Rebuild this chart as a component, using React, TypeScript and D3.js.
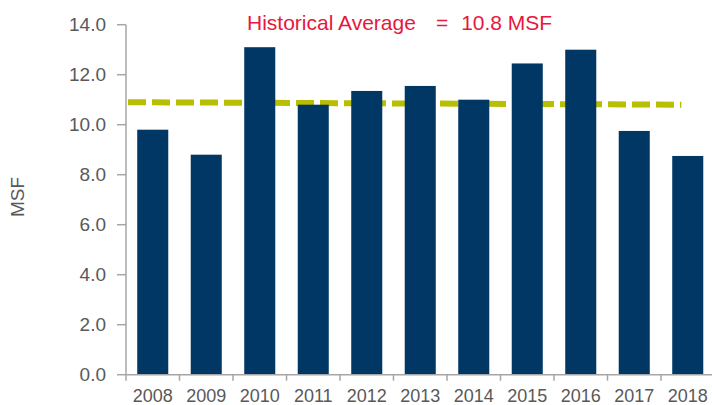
import React, { useRef, useEffect } from 'react';
import * as d3 from 'd3';

const WIDTH = 712;
const HEIGHT = 405;

// plot box in page pixels
const LEFT = 126;
const RIGHT = 714.5;
const TOP = 24.7;
const BOTTOM = 374.7;

const years = ['2008', '2009', '2010', '2011', '2012', '2013', '2014', '2015', '2016', '2017', '2018'];
const absorption = [9.8, 8.8, 13.1, 10.8, 11.35, 11.55, 11.0, 12.45, 13.0, 9.75, 8.75];
const yTicks = [0, 2, 4, 6, 8, 10, 12, 14];
const avgYears = ['2008', '2018'];
const avgValues = [10.9, 10.8];
const avgLabel = ['Historical Average', '=', '10.8 MSF'];

const FONT = 'Liberation Sans, Arial, sans-serif';
const NAVY = '#003764';
const GREY_TEXT = '#595959';
const AXIS = '#a6a6a6';

const App: React.FC = () => {
  const svgRef = useRef<SVGSVGElement>(null);

  useEffect(() => {
    document.body.style.margin = '0';
    if (!svgRef.current) return;
    const svg = d3.select(svgRef.current);
    svg.selectAll('*').remove();

    const x = d3.scaleBand<string>().domain(years).range([LEFT, RIGHT]).paddingInner(0.42).paddingOuter(0.21);
    const y = d3.scaleLinear().domain([0, 14]).range([BOTTOM, TOP]);
    const step = x.step();
    const bandStart = (yr: string) => LEFT + years.indexOf(yr) * step;

    // historical average dashed line (sits behind the bars)
    const avgPts: [number, number][] = avgYears.map((yr, i) => [
      i === 0 ? bandStart(yr) + 2 : bandStart(yr) + step * 0.38,
      y(avgValues[i]),
    ]);
    svg
      .append('path')
      .attr('d', d3.line()(avgPts) ?? '')
      .attr('stroke', '#b8be00')
      .attr('stroke-width', 6)
      .attr('stroke-dasharray', '18 6')
      .attr('fill', 'none');

    // bars
    svg
      .append('g')
      .selectAll('rect')
      .data(years)
      .join('rect')
      .attr('x', (d) => x(d) ?? 0)
      .attr('y', (d, i) => y(absorption[i]))
      .attr('width', x.bandwidth())
      .attr('height', (d, i) => BOTTOM - y(absorption[i]))
      .attr('fill', NAVY);

    // y axis
    const yAxis = svg.append('g').attr('transform', `translate(${LEFT},0)`);
    yAxis
      .append('line')
      .attr('x1', 0)
      .attr('x2', 0)
      .attr('y1', TOP)
      .attr('y2', BOTTOM)
      .attr('stroke', AXIS)
      .attr('stroke-width', 1.5);
    yTicks.forEach((t) => {
      yAxis
        .append('line')
        .attr('x1', -9)
        .attr('x2', 0)
        .attr('y1', y(t))
        .attr('y2', y(t))
        .attr('stroke', AXIS)
        .attr('stroke-width', 1.5);
      yAxis
        .append('text')
        .attr('x', -20)
        .attr('y', y(t))
        .attr('dy', '0.35em')
        .attr('text-anchor', 'end')
        .attr('fill', GREY_TEXT)
        .attr('font-size', '19px')
        .attr('font-family', FONT)
        .text(t.toFixed(1));
    });

    // x axis
    const xAxis = svg.append('g');
    xAxis
      .append('line')
      .attr('x1', LEFT)
      .attr('x2', RIGHT)
      .attr('y1', BOTTOM)
      .attr('y2', BOTTOM)
      .attr('stroke', AXIS)
      .attr('stroke-width', 1.5);
    years.forEach((yr) => {
      const bx = bandStart(yr);
      xAxis
        .append('line')
        .attr('x1', bx)
        .attr('x2', bx)
        .attr('y1', BOTTOM)
        .attr('y2', BOTTOM + 6)
        .attr('stroke', AXIS)
        .attr('stroke-width', 1.5);
      xAxis
        .append('text')
        .attr('x', bx + step / 2)
        .attr('y', 402)
        .attr('text-anchor', 'middle')
        .attr('fill', GREY_TEXT)
        .attr('font-size', '18px')
        .attr('font-family', FONT)
        .text(yr);
    });

    // y axis title
    svg
      .append('text')
      .attr('transform', 'translate(24,197) rotate(-90)')
      .attr('text-anchor', 'middle')
      .attr('fill', GREY_TEXT)
      .attr('font-size', '19px')
      .attr('font-family', FONT)
      .text('MSF');

    // average label
    const label = svg
      .append('text')
      .attr('x', 247)
      .attr('y', 29.5)
      .attr('fill', '#e8173c')
      .attr('font-size', '21px')
      .attr('font-family', FONT);
    label.append('tspan').text(avgLabel[0]);
    label.append('tspan').attr('dx', 20).text(avgLabel[1]);
    label.append('tspan').attr('dx', 13).text(avgLabel[2]);
  }, []);

  return <svg ref={svgRef} width={WIDTH} height={HEIGHT} style={{ display: 'block' }} />;
};

export default App;
